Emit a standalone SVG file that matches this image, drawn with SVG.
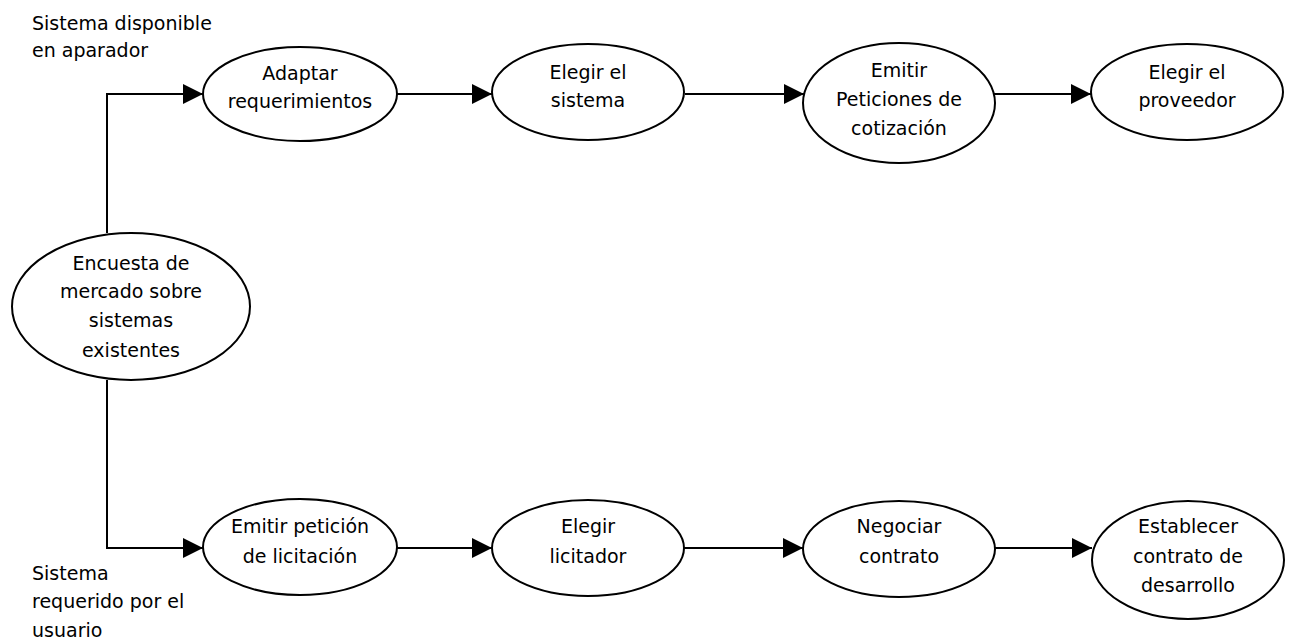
<svg xmlns="http://www.w3.org/2000/svg" width="1293" height="644" viewBox="0 0 1293 644">
<defs>
<marker id="arr" markerUnits="userSpaceOnUse" markerWidth="21" markerHeight="21" refX="20" refY="10" orient="auto">
<path d="M0,0 L20,10 L0,20 z" fill="#000"/>
</marker>
<style>
.n{fill:#fff;stroke:#000;stroke-width:2}
.c{fill:none;stroke:#000;stroke-width:2;marker-end:url(#arr)}
text{font-family:"DejaVu Sans","Noto Sans",sans-serif;font-size:19px;fill:#000}
.m{text-anchor:middle}
</style>
</defs>
<rect width="1293" height="644" fill="#fff"/>
<g id="labels">
<text x="32" y="30">Sistema disponible</text>
<text x="32" y="57">en aparador</text>
<text x="32" y="580">Sistema</text>
<text x="32" y="608">requerido por el</text>
<text x="32" y="637">usuario</text>
</g>
<g id="connectors">
<polyline class="c" points="107,233 107,94 203,94"/>
<line class="c" x1="397" y1="94" x2="492" y2="94"/>
<line class="c" x1="685" y1="94" x2="804" y2="94"/>
<line class="c" x1="994" y1="94" x2="1091" y2="94"/>
<polyline class="c" points="107,380 107,548 203,548"/>
<line class="c" x1="397" y1="548" x2="492" y2="548"/>
<line class="c" x1="684" y1="548" x2="803" y2="548"/>
<line class="c" x1="995" y1="548" x2="1092" y2="548"/>
</g>
<g id="encuesta">
<ellipse class="n" cx="131" cy="306.5" rx="119" ry="73.5"/>
<text class="m" x="131" y="270">Encuesta de</text>
<text class="m" x="131" y="298">mercado sobre</text>
<text class="m" x="131" y="327">sistemas</text>
<text class="m" x="131" y="357">existentes</text>
</g>
<g id="adaptar">
<ellipse class="n" cx="300" cy="94" rx="97" ry="47"/>
<text class="m" x="300" y="80">Adaptar</text>
<text class="m" x="300" y="108">requerimientos</text>
</g>
<g id="elegir-sistema">
<ellipse class="n" cx="588" cy="92" rx="96" ry="48"/>
<text class="m" x="588" y="79">Elegir el</text>
<text class="m" x="588" y="107">sistema</text>
</g>
<g id="emitir-peticiones">
<ellipse class="n" cx="899" cy="103" rx="96" ry="60"/>
<text class="m" x="899" y="77">Emitir</text>
<text class="m" x="899" y="106">Peticiones de</text>
<text class="m" x="899" y="135">cotización</text>
</g>
<g id="elegir-proveedor">
<ellipse class="n" cx="1187" cy="92" rx="96" ry="48"/>
<text class="m" x="1187" y="79">Elegir el</text>
<text class="m" x="1187" y="107">proveedor</text>
</g>
<g id="emitir-licitacion">
<ellipse class="n" cx="300" cy="547" rx="97" ry="48"/>
<text class="m" x="300" y="533">Emitir petición</text>
<text class="m" x="300" y="563">de licitación</text>
</g>
<g id="elegir-licitador">
<ellipse class="n" cx="588" cy="548" rx="96" ry="48"/>
<text class="m" x="588" y="533">Elegir</text>
<text class="m" x="588" y="563">licitador</text>
</g>
<g id="negociar">
<ellipse class="n" cx="899" cy="549" rx="96" ry="48"/>
<text class="m" x="899" y="533">Negociar</text>
<text class="m" x="899" y="563">contrato</text>
</g>
<g id="establecer">
<ellipse class="n" cx="1188" cy="560" rx="96" ry="59"/>
<text class="m" x="1188" y="533">Establecer</text>
<text class="m" x="1188" y="563">contrato de</text>
<text class="m" x="1188" y="592">desarrollo</text>
</g>
</svg>
